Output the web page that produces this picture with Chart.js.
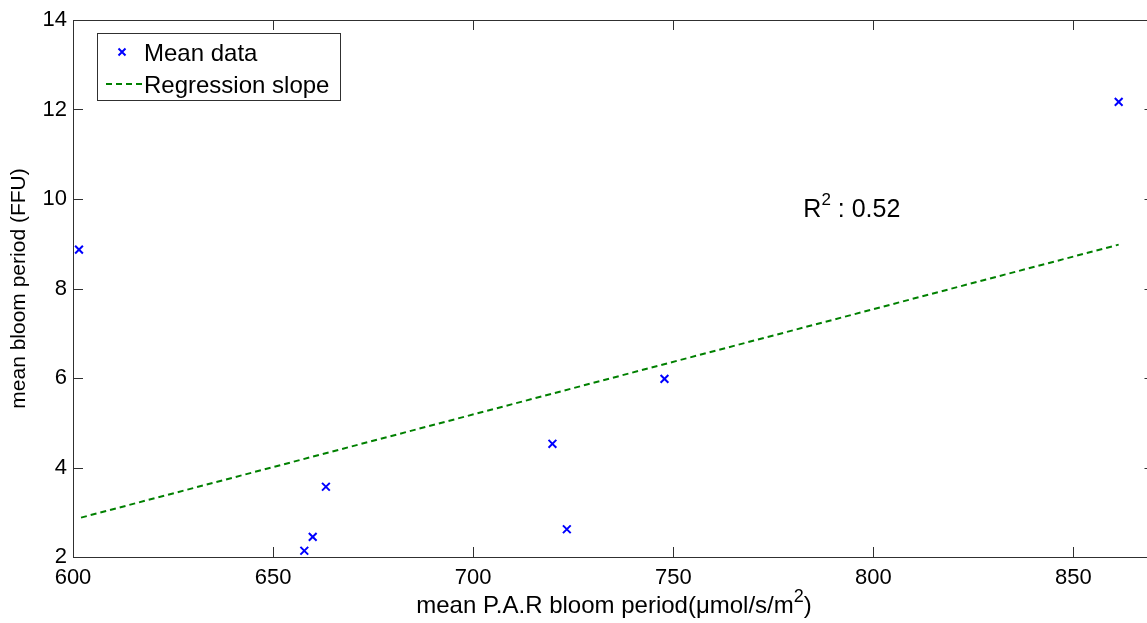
<!DOCTYPE html>
<html>
<head>
<meta charset="utf-8">
<script src="https://cdn.jsdelivr.net/npm/chart.js@4/dist/chart.umd.min.js"></script>
<style>
  html, body { margin: 0; padding: 0; background: #fff; overflow: hidden; }
  #wrap { width: 1147px; height: 623px; overflow: hidden; }
</style>
</head>
<body>
<div id="wrap"><canvas id="c" width="1162" height="623"></canvas></div>
<script>
// values
var meanX = [601.5, 657.8, 659.9, 663.2, 719.8, 723.4, 747.8, 861.3];
var meanY = [8.87, 2.14, 2.45, 3.57, 4.53, 2.62, 5.98, 12.17];
var regX = [602, 861.3];
var regY = [2.88, 8.98];
var xTicks = [600, 650, 700, 750, 800, 850];
var yTicks = [2, 4, 6, 8, 10, 12, 14];
var r2 = '0.52';

var font = "'Liberation Sans', Arial, sans-serif";

var pts = [];
for (let i = 0; i <= meanX.length - 1; i++) {
  pts[i] = { x: meanX[i], y: meanY[i] };
}
var line = [];
for (let i = 0; i <= regX.length - 1; i++) {
  line[i] = { x: regX[i], y: regY[i] };
}

// draws "base" + superscript "sup" + "tail" starting at x (left) on baseline y
function supText(ctx, x, y, base, sup, tail, size, supSize, rise) {
  ctx.font = size + 'px ' + font;
  ctx.fillText(base, x, y);
  x += ctx.measureText(base).width;
  ctx.font = supSize + 'px ' + font;
  ctx.fillText(sup, x, y - rise);
  x += ctx.measureText(sup).width;
  ctx.font = size + 'px ' + font;
  ctx.fillText(tail, x, y);
}

function supWidth(ctx, base, sup, tail, size, supSize) {
  ctx.font = size + 'px ' + font;
  var w = ctx.measureText(base).width + ctx.measureText(tail).width;
  ctx.font = supSize + 'px ' + font;
  return w + ctx.measureText(sup).width;
}

// box, inward ticks on all sides, legend, x title and R^2 note
var boxPlugin = {
  id: 'boxPlugin',
  afterDraw: function (chart) {
    var ctx = chart.ctx;
    var a = chart.chartArea;
    var xs = chart.scales.x, ys = chart.scales.y;
    ctx.save();
    ctx.strokeStyle = '#303030';
    ctx.lineWidth = 1;
    ctx.strokeRect(a.left + 0.5, a.top + 0.5, a.right - a.left, a.bottom - a.top);
    ctx.beginPath();
    xTicks.forEach(function (v) {
      var px = Math.round(xs.getPixelForValue(v)) + 0.5;
      ctx.moveTo(px, a.bottom); ctx.lineTo(px, a.bottom - 10);
      ctx.moveTo(px, a.top); ctx.lineTo(px, a.top + 10);
    });
    yTicks.forEach(function (v) {
      var py = Math.round(ys.getPixelForValue(v)) + 0.5;
      ctx.moveTo(a.left, py); ctx.lineTo(a.left + 10, py);
      ctx.moveTo(a.right, py); ctx.lineTo(a.right - 10, py);
    });
    ctx.stroke();

    // legend
    ctx.fillStyle = '#fff';
    ctx.fillRect(97, 33, 243, 67);
    ctx.strokeStyle = '#303030';
    ctx.strokeRect(97.5, 33.5, 243, 67);
    ctx.strokeStyle = '#0000ff';
    ctx.lineWidth = 2;
    ctx.beginPath();
    ctx.moveTo(118.5, 48.5); ctx.lineTo(125.5, 55.5);
    ctx.moveTo(125.5, 48.5); ctx.lineTo(118.5, 55.5);
    ctx.stroke();
    ctx.strokeStyle = '#008000';
    ctx.lineWidth = 2;
    ctx.setLineDash([6, 4]);
    ctx.beginPath();
    ctx.moveTo(106, 84); ctx.lineTo(142, 84);
    ctx.stroke();
    ctx.setLineDash([]);
    ctx.fillStyle = '#000';
    ctx.font = '24px ' + font;
    ctx.textBaseline = 'alphabetic';
    ctx.textAlign = 'left';
    ctx.fillText('Mean data', 144, 61);
    ctx.fillText('Regression slope', 144, 93);

    // R^2 note
    var tx = xs.getPixelForValue(782.5), ty = ys.getPixelForValue(9.6);
    supText(ctx, tx, ty, 'R', '2', ' : ' + r2, 25, 17, 12);

    // x axis title
    var base = 'mean P.A.R bloom period(\u03bcmol/s/m', tail = ')';
    var w = supWidth(ctx, base, '2', tail, 24, 18);
    var cx = 614;
    supText(ctx, cx - w / 2, 613, base, '2', tail, 24, 18, 11);
    ctx.restore();
  }
};

var ctx = document.getElementById('c').getContext('2d');
var myChart = new Chart(ctx, {
  type: 'scatter',
  data: {
    datasets: [
      {
        label: 'Mean data',
        data: pts,
        pointStyle: 'crossRot',
        pointRadius: 5.5,
        pointBorderWidth: 2,
        borderColor: '#0000ff',
        backgroundColor: '#0000ff',
        showLine: false
      },
      {
        label: 'Regression slope',
        type: 'line',
        data: line,
        borderColor: '#008000',
        borderWidth: 2,
        borderDash: [6, 4],
        pointRadius: 0,
        fill: false
      }
    ]
  },
  options: {
    responsive: false,
    animation: false,
    layout: { padding: { left: 0, right: 0, top: 20, bottom: 0 } },
    plugins: {
      legend: { display: false },
      tooltip: { enabled: false }
    },
    scales: {
      x: {
        type: 'linear',
        min: 600,
        max: 870.25,
        afterBuildTicks: function (s) { s.ticks = xTicks.map(function (v) { return { value: v }; }); },
        afterFit: function (s) { s.height = 66; },
        grid: { display: false },
        border: { display: false },
        ticks: { color: '#000', font: { family: font, size: 22 }, padding: 0, maxRotation: 0 },
        title: { display: false }
      },
      y: {
        min: 2,
        max: 14,
        afterBuildTicks: function (s) { s.ticks = yTicks.map(function (v) { return { value: v }; }); },
        afterFit: function (s) { s.width = 73; },
        grid: { display: false, drawTicks: false },
        border: { display: false },
        ticks: { color: '#000', font: { family: font, size: 22 }, padding: 6 },
        title: {
          display: true,
          text: 'mean bloom period (FFU)',
          color: '#000',
          font: { family: font, size: 21 },
          padding: { top: 7, bottom: 4 }
        }
      }
    }
  },
  plugins: [boxPlugin]
});
</script>
</body>
</html>
